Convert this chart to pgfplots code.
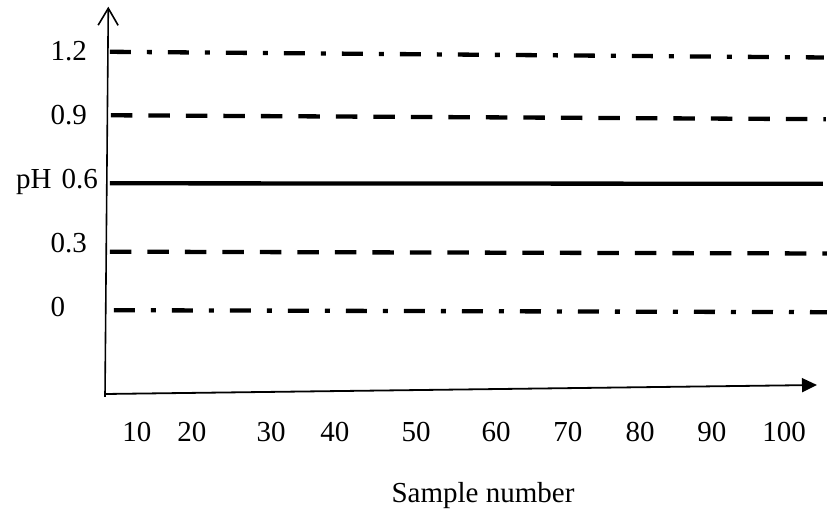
\documentclass[border=0pt]{standalone}
\usepackage{fontspec}
\setmainfont{Liberation Serif}
\usepackage{pgfplots}
\pgfplotsset{compat=1.18}
\usetikzlibrary{arrows.meta}
\begin{document}
\begin{tikzpicture}
\begin{axis}[
  at={(105pt,117pt)}, anchor=south west,
  scale only axis, width=712pt, height=386pt,
  xmin=5.549, xmax=104.59, ymin=-0.3883, ymax=1.4175,
  clip=false,
  axis line style={draw=none},
  tick style={draw=none},
  tick pos=left,
  xtick={10,17.65,28.64,37.54,48.81,59.94,69.95,79.97,89.98,100},
  xticklabels={10,20,30,40,50,60,70,80,90,100},
  ytick={0,0.3,0.6,0.9,1.2},
  yticklabels={0,0.3,{\hspace*{11pt}\llap{pH\hspace*{10pt}}0.6},0.9,1.2},
  tick label style={font=\fontsize{29}{34}\selectfont},
  xticklabel style={anchor=base, yshift=-48pt},
  yticklabel style={anchor=base west, xshift=-58pt, yshift=-6pt},
  xlabel={Sample number},
  xlabel style={font=\fontsize{29}{34}\selectfont, at={(rel axis cs:0.5309,0)}, anchor=base, yshift=-109pt},
]
% control lines (pH)
\addplot[line width=4.3pt, dash pattern=on 21pt off 16pt on 5pt off 16pt] coordinates {(6.24,1.2126) (105.56,1.1860)};
\addplot[line width=4.3pt, dash pattern=on 21.5pt off 16pt] coordinates {(6.38,0.9156) (105.84,0.8973)};
\addplot[line width=4.3pt] coordinates {(6.24,0.5974) (105.42,0.5951)};
\addplot[line width=4.3pt, dash pattern=on 21.5pt off 16pt] coordinates {(6.24,0.2774) (105.98,0.2690)};
\addplot[line width=4.3pt, dash pattern=on 21pt off 16pt on 5pt off 16pt] coordinates {(6.80,0.0037) (105.98,-0.0056)};
% axes
\addplot[line width=1.8pt, -{Triangle[length=15pt,width=14pt]}] coordinates {(5.549,-0.3883) (104.59,-0.3462)};
\addplot[line width=1.6pt, -{Straight Barb[length=17pt,width=20pt]}] coordinates {(5.549,-0.402) (6.008,1.4236)};
\end{axis}
\pgfresetboundingbox
\path[use as bounding box] (0,0) rectangle (836pt,511pt);
\end{tikzpicture}
\end{document}
